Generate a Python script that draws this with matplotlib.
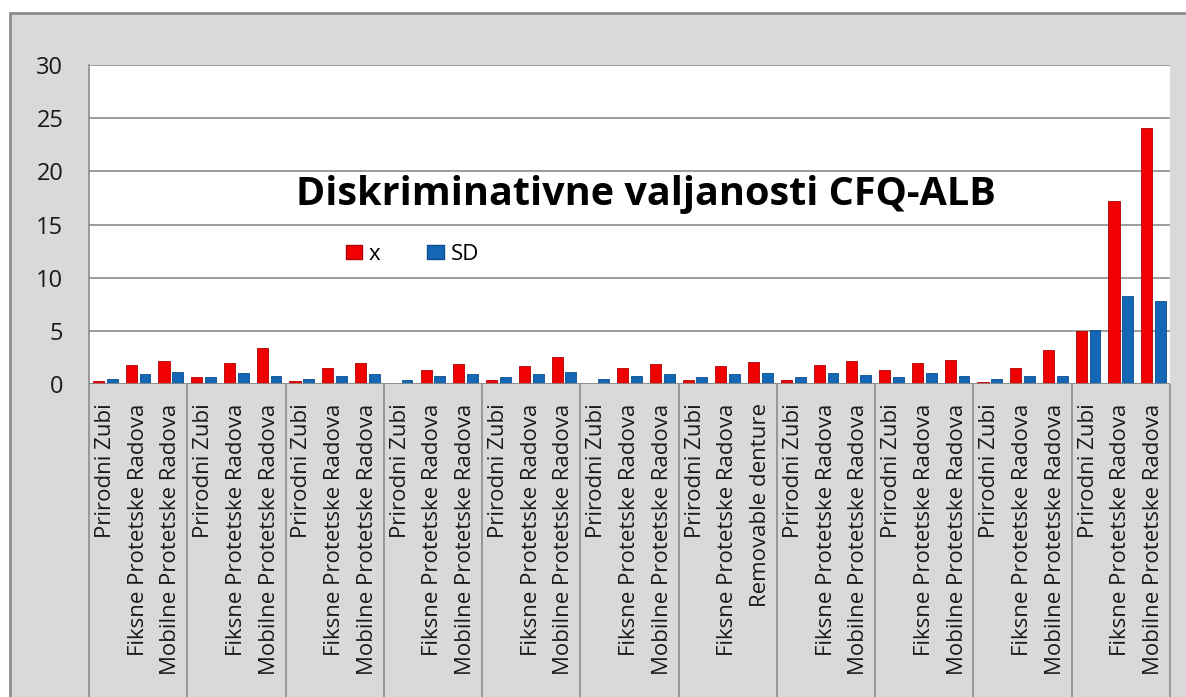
import numpy as np
import matplotlib
matplotlib.use("Agg")
import matplotlib.pyplot as plt
from matplotlib.patches import Rectangle, Patch

plt.rcParams['font.family'] = ['Open Sans', 'DejaVu Sans']

# Data
group_items = [
    ["Prirodni Zubi", "Fiksne Protetske Radova", "Mobilne Protetske Radova"],
] * 6 + [
    ["Prirodni Zubi", "Fiksne Protetske Radova", "Removable denture"],
] + [
    ["Prirodni Zubi", "Fiksne Protetske Radova", "Mobilne Protetske Radova"],
] * 4
categories = [lab for grp in group_items for lab in grp]

x_mean = [0.3, 1.75, 2.2,
          0.65, 1.95, 3.35,
          0.3, 1.5, 1.95,
          0.0, 1.35, 1.85,
          0.4, 1.65, 2.5,
          0.0, 1.5, 1.85,
          0.4, 1.65, 2.1,
          0.4, 1.75, 2.2,
          1.3, 1.95, 2.25,
          0.2, 1.55, 3.2,
          5.0, 17.2, 24.1]
sd = [0.5, 0.9, 1.1,
      0.65, 1.05, 0.75,
      0.5, 0.75, 0.9,
      0.4, 0.75, 0.9,
      0.65, 0.9, 1.15,
      0.5, 0.75, 0.9,
      0.65, 0.9, 1.05,
      0.65, 1.05, 0.85,
      0.7, 1.0, 0.75,
      0.45, 0.75, 0.75,
      5.05, 8.3, 7.8]

title = "Diskriminativne valjanosti CFQ-ALB"
series_names = ["x", "SD"]
red, blue = "#F00000", "#1467B4"

W, H = 1186, 697
fig = plt.figure(figsize=(W / 100, H / 100), dpi=100, facecolor="white")

# gray chart area with border
fig.patches.append(Rectangle((10 / W, -0.01), 1.2, (H - 13) / H + 0.01, transform=fig.transFigure,
                             facecolor="#D9D9D9", edgecolor="#8C8C8C", lw=2, zorder=-5))

ax = fig.add_axes([89 / W, (H - 384) / H, (1170 - 89) / W, (384 - 65) / H])
ax.set_facecolor("white")

pos = np.arange(len(categories))
ax.bar(pos - 0.21, x_mean, width=0.34, color=red, edgecolor="#B00000", lw=0.6, zorder=3)
ax.bar(pos + 0.21, sd, width=0.33, color=blue, edgecolor="#0B4C8C", lw=0.6, zorder=3)

ax.set_xlim(-0.5, len(categories) - 0.5)
ax.set_ylim(0, 30)
ax.set_yticks(range(0, 31, 5))
ax.yaxis.grid(True, color="#8C8C8C", lw=1.2)
ax.set_axisbelow(True)
for s in ["top", "right", "bottom"]:
    ax.spines[s].set_visible(False)
ax.spines["left"].set_color("#8C8C8C")
ax.spines["left"].set_linewidth(1.2)
ax.tick_params(axis="y", length=0, pad=18.5, labelsize=17, labelcolor="#1A1A1A")

ax.set_xticks(pos)
ax.set_xticklabels(categories, rotation=90, fontsize=16, color="#1A1A1A")
ax.tick_params(axis="x", length=0, pad=14)

# group separators running down through the label area
n_per = len(group_items[0])
bounds = np.arange(0, len(categories) + 1, n_per) - 0.5
ax.vlines(bounds, -1.2, 0, transform=ax.get_xaxis_transform(), colors="#8C8C8C",
          lw=1.2, clip_on=False)
ax.axhline(0, color="#8C8C8C", lw=1.2, zorder=4)

ax.text(0.515, 0.593, title, transform=ax.transAxes, ha="center", va="center",
        fontsize=28.5, fontweight="bold", color="black", zorder=5)

handles = [Patch(facecolor=red, edgecolor="#B00000"), Patch(facecolor=blue, edgecolor="#0B4C8C")]
ax.legend(handles, series_names, loc="center left", bbox_to_anchor=(0.219, 0.407), ncol=2,
          frameon=False, fontsize=16, handlelength=0.75, handleheight=0.6, handletextpad=0.3,
          columnspacing=2.1)

fig.savefig("out.png", dpi=100, facecolor="white")
